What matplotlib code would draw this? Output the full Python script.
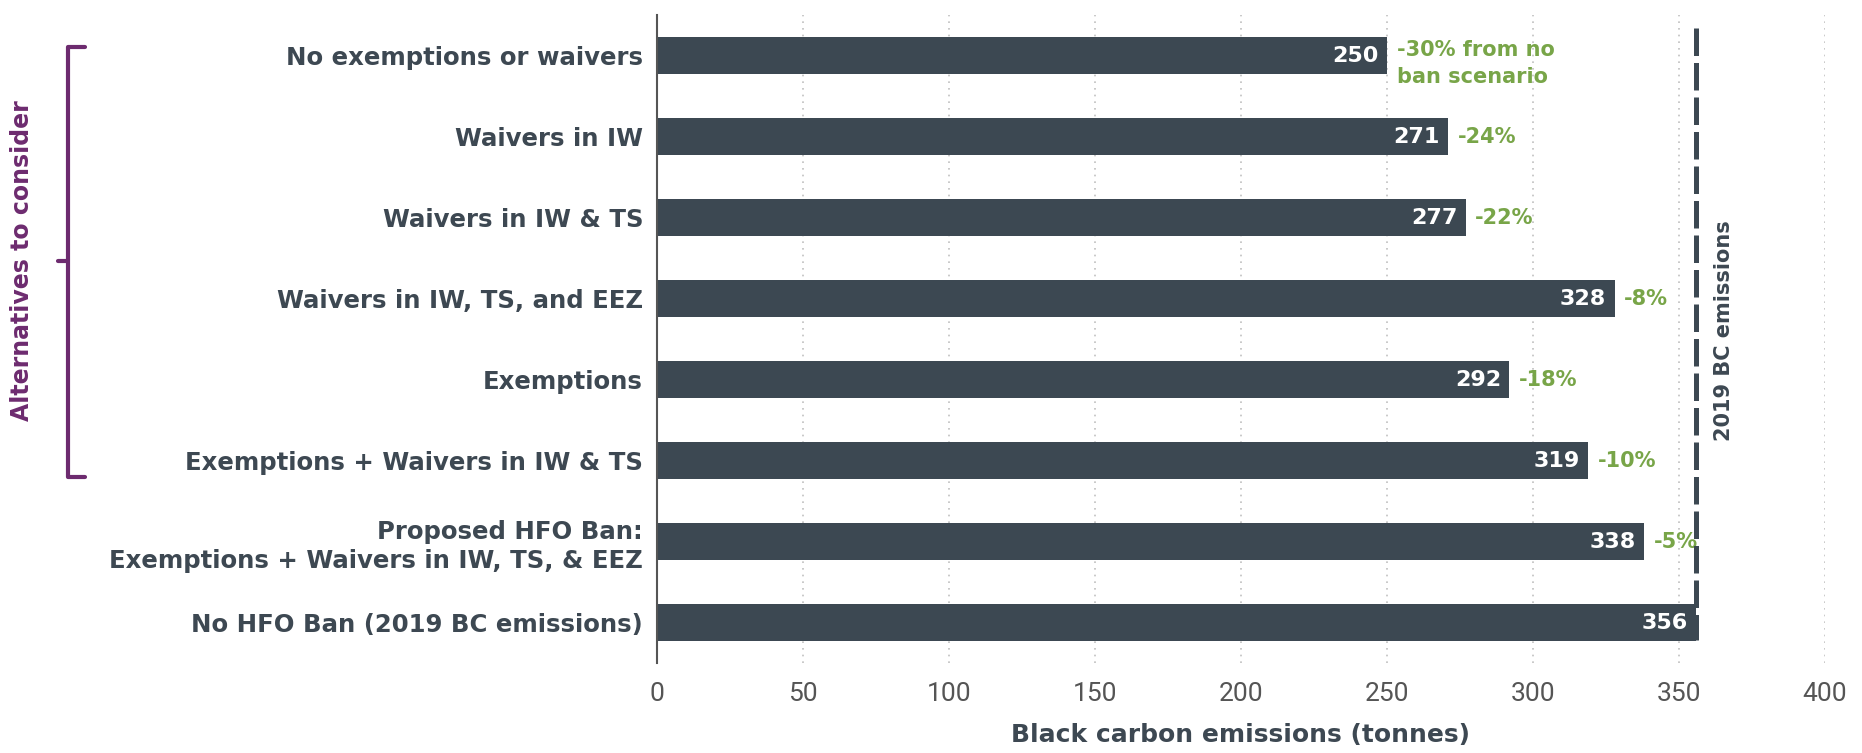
import numpy as np
import matplotlib
matplotlib.use('Agg')
import matplotlib.pyplot as plt
from matplotlib.lines import Line2D

# Scenarios, top to bottom
scenarios = [
    "No exemptions or waivers",
    "Waivers in IW",
    "Waivers in IW & TS",
    "Waivers in IW, TS, and EEZ",
    "Exemptions",
    "Exemptions + Waivers in IW & TS",
    "Proposed HFO Ban:\nExemptions + Waivers in IW, TS, & EEZ",
    "No HFO Ban (2019 BC emissions)",
]
bc_tonnes = [250, 271, 277, 328, 292, 319, 338, 356]
change_labels = ["-30% from no\nban scenario", "-24%", "-22%", "-8%",
                 "-18%", "-10%", "-5%", ""]
baseline_2019 = 356
xticks = [0, 50, 100, 150, 200, 250, 300, 350, 400]

BAR = '#3c4852'
TEXT = '#3d4852'
GREEN = '#78a548'
PURPLE = '#6d2b6f'

fig = plt.figure(figsize=(18.62, 7.53), dpi=100)
ax = fig.add_axes([0.3528, 0.1195, 0.6272, 0.8605])

y = np.arange(len(scenarios))
ax.barh(y, bc_tonnes, height=0.45, color=BAR, zorder=3)
ax.set_ylim(len(scenarios) - 0.5, -0.5)
ax.set_xlim(0, 400)

# value inside each bar, change vs. no-ban next to it
for yi, v, lab in zip(y, bc_tonnes, change_labels):
    ax.annotate(str(v), (v, yi), xytext=(-6, 0), textcoords='offset points',
                ha='right', va='center', color='white', fontsize=16,
                fontweight='bold', zorder=4)
    if not lab:
        continue
    multi = '\n' in lab
    ax.annotate(lab, (v, yi), xytext=(7, 11 if multi else 0),
                textcoords='offset points', ha='left',
                va='top' if multi else 'center',
                color=GREEN, fontsize=15, fontweight='bold',
                linespacing=1.4, zorder=4)

# 2019 baseline marker
ax.vlines(baseline_2019, -0.34, len(scenarios) - 1 + 0.22, colors=BAR,
          linewidth=3.6, linestyles=(0, (5.5, 1.4)), zorder=5)
ax.text(365.5, 3.4, "2019 BC emissions", rotation=90, ha='center',
        va='center', fontsize=15, fontweight='bold', color=TEXT)

ax.set_yticks(y)
ax.set_yticklabels(scenarios, fontsize=17.6, fontweight='bold', color=TEXT,
                   linespacing=1.25)
ax.tick_params(axis='y', length=0, pad=10)
ax.set_xticks(xticks)
ax.set_xticklabels([str(t) for t in xticks], fontsize=19, color='#555555',
                   family='Roboto')
ax.tick_params(axis='x', length=0, pad=14)
ax.set_xlabel("Black carbon emissions (tonnes)", fontsize=18,
              fontweight='bold', color=TEXT, labelpad=12)

ax.grid(axis='x', linestyle=(0, (1, 3)), color='#c0c0c0', linewidth=1.2,
        zorder=0)
for s in ['top', 'right', 'bottom']:
    ax.spines[s].set_visible(False)
ax.spines['left'].set_color('#555555')
ax.spines['left'].set_linewidth(1.5)
ax.spines['left'].set_zorder(4)

# bracket grouping the alternatives (figure pixel coords)
W, H = 1862, 753
def fx(px):
    return px / W
def fy(py):
    return 1 - py / H
bx, top, bot, mid = 68, 47, 477, 261
bracket = [
    Line2D([fx(85), fx(bx), fx(bx), fx(85)],
           [fy(top), fy(top), fy(bot), fy(bot)]),
    Line2D([fx(58), fx(bx)], [fy(mid), fy(mid)]),
]
for ln in bracket:
    ln.set_color(PURPLE)
    ln.set_linewidth(3)
    ln.set_solid_capstyle('round')
    ln.set_solid_joinstyle('round')
    fig.add_artist(ln)
fig.text(fx(22), fy(mid), "Alternatives to consider", rotation=90,
         ha='center', va='center', fontsize=17, fontweight='bold',
         color=PURPLE)

fig.savefig('out.png', dpi=100)
